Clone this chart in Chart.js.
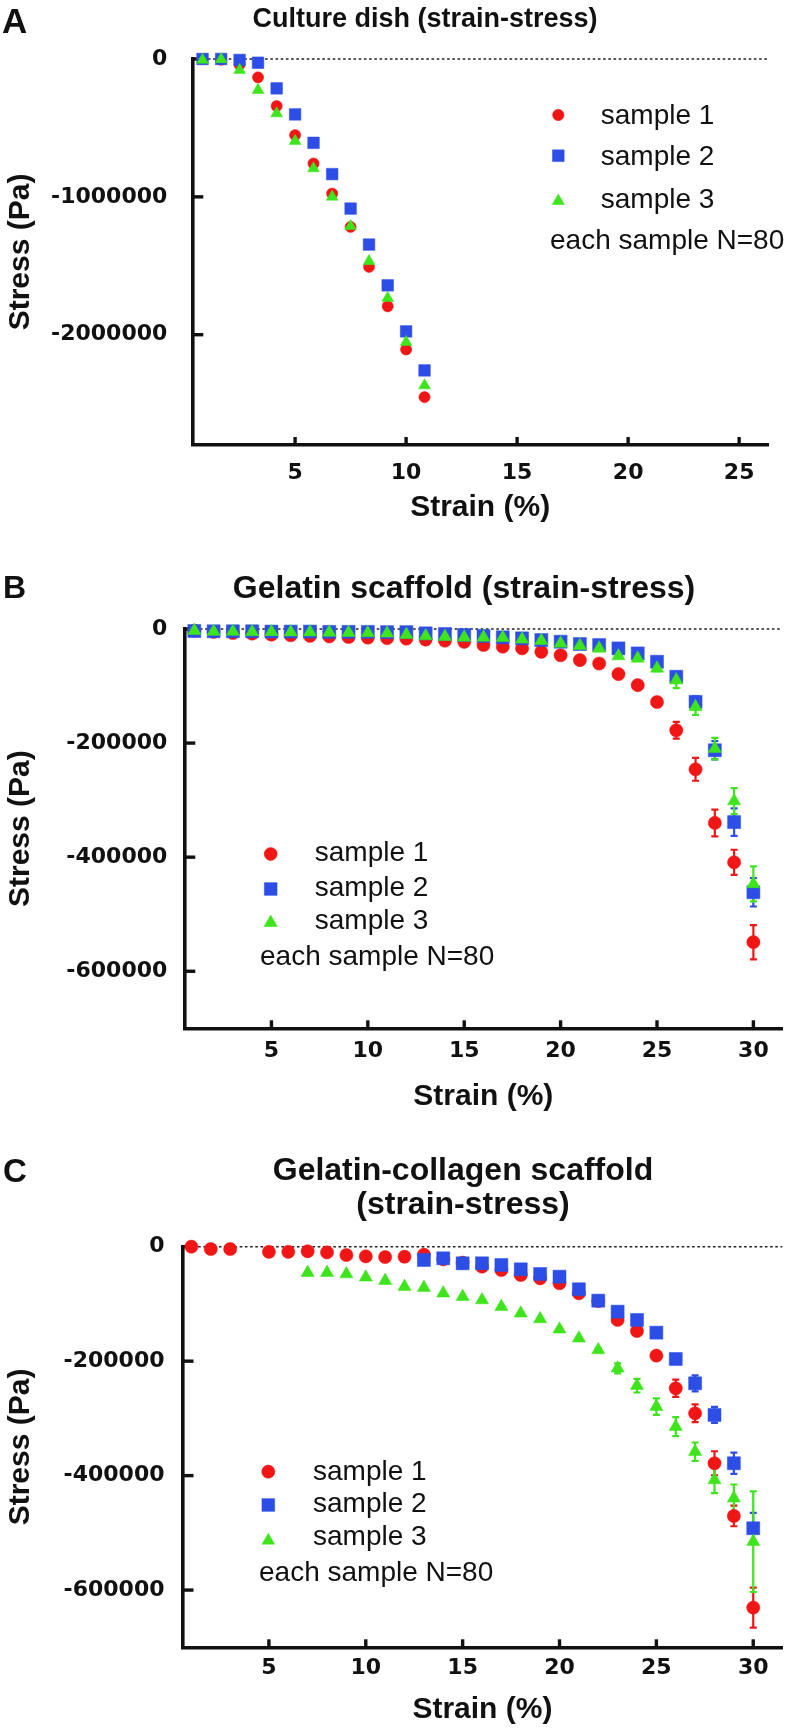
<!DOCTYPE html>
<html>
<head>
<meta charset="utf-8">
<script src="https://cdn.jsdelivr.net/npm/chart.js@4.4.1/dist/chart.umd.min.js"></script>
<style>
html,body{margin:0;padding:0;background:#fff;}
#page{position:relative;width:792px;height:1736px;overflow:hidden;font-family:'Liberation Sans',Arial,Helvetica,sans-serif;color:#111;}
canvas{position:absolute;left:0;}
.t{position:absolute;white-space:nowrap;line-height:1;}
.b{font-weight:bold;}
.c{transform:translateX(-50%);}
.lg{font-size:28px;}
</style>
</head>
<body>
<div id="page">
<canvas id="cA" width="792" height="560" style="top:0px"></canvas>
<canvas id="cB" width="792" height="560" style="top:560px"></canvas>
<canvas id="cC" width="792" height="616" style="top:1120px"></canvas>

<div class="t b" style="left:2px;top:3.4px;font-size:35px;">A</div>
<div class="t b c" style="left:425px;top:4.8px;font-size:27px;">Culture dish (strain-stress)</div>
<div class="t lg" style="left:600.8px;top:101.1px;">sample 1</div>
<div class="t lg" style="left:600.8px;top:141.6px;">sample 2</div>
<div class="t lg" style="left:600.8px;top:184.6px;">sample 3</div>
<div class="t lg" style="left:550px;top:226.1px;">each sample N=80</div>

<div class="t b" style="left:3px;top:570.9px;font-size:32px;">B</div>
<div class="t b c" style="left:464px;top:570.9px;font-size:32px;">Gelatin scaffold (strain-stress)</div>
<div class="t lg" style="left:314.8px;top:837.6px;">sample 1</div>
<div class="t lg" style="left:314.8px;top:872.6px;">sample 2</div>
<div class="t lg" style="left:314.8px;top:905.6px;">sample 3</div>
<div class="t lg" style="left:260px;top:941.9px;">each sample N=80</div>

<div class="t b" style="left:3px;top:1153.9px;font-size:33px;">C</div>
<div class="t b c" style="left:463px;top:1153.4px;font-size:32px;">Gelatin-collagen scaffold</div>
<div class="t b c" style="left:463px;top:1187.4px;font-size:32px;">(strain-stress)</div>
<div class="t lg" style="left:313px;top:1456.9px;">sample 1</div>
<div class="t lg" style="left:313px;top:1489.4px;">sample 2</div>
<div class="t lg" style="left:313px;top:1521.9px;">sample 3</div>
<div class="t lg" style="left:259px;top:1557.8px;">each sample N=80</div>
</div>

<script>
// ---------------- DATA ----------------
const seriesNames = ['sample 1', 'sample 2', 'sample 3'];

// Panel A: Culture dish
const strainA = [0.83, 1.67, 2.5, 3.33, 4.17, 5, 5.83, 6.67, 7.5, 8.33, 9.17, 10, 10.83];
const stressA1 = [0, -5000, -40000, -133000, -341000, -552000, -758000, -976000, -1218000, -1508000, -1794000, -2107000, -2453000];
const stressA2 = [0, 0, -7000, -27000, -213000, -402000, -608000, -835000, -1085000, -1346000, -1642000, -1976000, -2259000];
const stressA3 = [-7000, -2000, -80000, -225000, -395000, -596000, -794000, -1000000, -1213000, -1467000, -1734000, -2054000, -2368000];
const xTicksA = [5, 10, 15, 20, 25];
const yTicksA = [0, -1000000, -2000000];
const yTickLabelsA = ['0', '-1000000', '-2000000'];

// Panel B: Gelatin scaffold
const strainB = [1, 2, 3, 4, 5, 6, 7, 8, 9, 10, 11, 12, 13, 14, 15, 16, 17, 18, 19, 20, 21, 22, 23, 24, 25, 26, 27, 28, 29, 30];
const stressB1 = [-3000, -5000, -7000, -8000, -10000, -11000, -12000, -13000, -14000, -15000, -16000, -17000, -18500, -20500, -22500, -28000, -31000, -34000, -40000, -46000, -54500, -60500, -79000, -98500, -128000, -177500, -246000, -340000, -409000, -549000];
const errB1 = [0, 0, 0, 0, 0, 0, 0, 0, 0, 0, 0, 0, 0, 0, 0, 0, 0, 0, 0, 0, 0, 0, 3000, 4000, 5000, 14600, 20000, 23400, 22000, 30000];
const stressB2 = [-3500, -4000, -4000, -4000, -4500, -4500, -4500, -5000, -5000, -5000, -5500, -5500, -7600, -8800, -10500, -12300, -14600, -16400, -19300, -22300, -26400, -28100, -34000, -42800, -57400, -83700, -127700, -212600, -338500, -461500];
const errB2 = [0, 0, 0, 0, 0, 0, 0, 0, 0, 0, 0, 0, 0, 0, 0, 0, 0, 0, 0, 0, 0, 0, 0, 0, 4000, 8000, 9700, 16000, 24000, 25000];
const stressB3 = [-3000, -4500, -4500, -5000, -5000, -5500, -5500, -6000, -6500, -7000, -7500, -10000, -12300, -13500, -14600, -14600, -15200, -18100, -20500, -25200, -29300, -34000, -47400, -51500, -69100, -89600, -136500, -209700, -301600, -446900];
const errB3 = [0, 0, 0, 0, 0, 0, 0, 0, 0, 0, 0, 0, 0, 0, 0, 0, 0, 0, 0, 0, 0, 0, 0, 0, 5000, 14000, 14000, 19000, 22800, 30700];
const xTicksB = [5, 10, 15, 20, 25, 30];
const yTicksB = [0, -200000, -400000, -600000];
const yTickLabelsB = ['0', '-200000', '-400000', '-600000'];

// Panel C: Gelatin-collagen scaffold
const strainC1 = [1, 2, 3, 5, 6, 7, 8, 9, 10, 11, 12, 13, 14, 15, 16, 17, 18, 19, 20, 21, 22, 23, 24, 25, 26, 27, 28, 29, 30];
const stressC1 = [0, -4000, -4000, -9000, -9000, -8000, -10000, -14500, -17000, -18000, -17500, -14000, -22000, -28000, -34900, -40700, -49400, -55200, -63900, -81400, -95000, -128000, -147300, -190400, -247400, -291100, -378400, -470500, -630600];
const errC1 = [0, 0, 0, 0, 0, 0, 0, 0, 0, 0, 0, 0, 0, 0, 0, 0, 0, 0, 0, 0, 0, 3000, 4000, 6000, 15000, 15500, 21000, 18000, 35000];
const strainC2 = [13, 14, 15, 16, 17, 18, 19, 20, 21, 22, 23, 24, 25, 26, 27, 28, 29, 30];
const stressC2 = [-23200, -20300, -29000, -29000, -32000, -39500, -47700, -52400, -74400, -94300, -113500, -128000, -150200, -196200, -238700, -294000, -378400, -492000];
const errC2 = [0, 0, 0, 0, 0, 0, 0, 0, 0, 0, 0, 0, 3000, 4000, 14000, 14000, 18600, 27000];
const strainC3 = [7, 8, 9, 10, 11, 12, 13, 14, 15, 16, 17, 18, 19, 20, 21, 22, 23, 24, 25, 26, 27, 28, 29, 30];
const stressC3 = [-45400, -45400, -47700, -53500, -59300, -69900, -71600, -81400, -87400, -93100, -104800, -116400, -126300, -144300, -160000, -180500, -212500, -242800, -279500, -314500, -358100, -407600, -439500, -515400];
const errC3 = [0, 0, 0, 0, 0, 0, 0, 0, 0, 0, 0, 0, 0, 0, 0, 3000, 8700, 12000, 14500, 16600, 16000, 23000, 24000, 88000];
const xTicksC = [5, 10, 15, 20, 25, 30];
const yTicksC = [0, -200000, -400000, -600000];
const yTickLabelsC = ['0', '-200000', '-400000', '-600000'];

// ---------------- STYLE ----------------
const RED = '#f01616', BLUE = '#2c4ee6', GREEN = '#3ee41c', INK = '#111';
const SANS = "'Liberation Sans', Arial, Helvetica, sans-serif";
const TICKFONT = "'DejaVu Sans', 'Liberation Sans', Arial, sans-serif";

function fallbackPoint(ctx, style, r, x, y) {
  ctx.beginPath();
  if (style === 'circle') ctx.arc(x, y, r, 0, Math.PI * 2);
  else if (style === 'rect') { const s = Math.SQRT1_2 * r; ctx.rect(x - s, y - s, 2 * s, 2 * s); }
  else { ctx.moveTo(x, y - r); ctx.lineTo(x + r * 0.866, y + r / 2); ctx.lineTo(x - r * 0.866, y + r / 2); ctx.closePath(); }
  ctx.fill();
}

function decoPlugin(P) {
  return {
    id: 'deco' + P.id,
    beforeDatasetsDraw(chart) {
      const ctx = chart.ctx, ca = chart.chartArea, xs = chart.scales.x, ys = chart.scales.y;
      // dotted zero line
      const y0 = ys.getPixelForValue(0);
      ctx.save();
      ctx.strokeStyle = '#222'; ctx.lineWidth = 1.6; ctx.setLineDash([2.6, 2.6]);
      ctx.beginPath(); ctx.moveTo(ca.left, y0); ctx.lineTo(ca.right, y0); ctx.stroke();
      ctx.restore();
      // inward tick marks
      ctx.save();
      ctx.strokeStyle = INK; ctx.lineWidth = 3.4;
      xs.ticks.forEach(t => {
        const px = xs.getPixelForValue(t.value);
        ctx.beginPath(); ctx.moveTo(px, ca.bottom); ctx.lineTo(px, ca.bottom - 8); ctx.stroke();
      });
      ys.ticks.forEach(t => {
        const py = ys.getPixelForValue(t.value);
        ctx.beginPath(); ctx.moveTo(ca.left, py); ctx.lineTo(ca.left + 11, py); ctx.stroke();
      });
      ctx.restore();
      // error bars
      chart.data.datasets.forEach((ds, i) => {
        if (!ds.errorBars) return;
        const meta = chart.getDatasetMeta(i);
        ctx.save();
        ctx.strokeStyle = ds.backgroundColor; ctx.lineWidth = 2.2;
        meta.data.forEach((pt, j) => {
          const e = ds.errorBars[j];
          if (!e) return;
          const v = ds.data[j].y;
          const yt = ys.getPixelForValue(v + e), yb = ys.getPixelForValue(v - e);
          ctx.beginPath();
          ctx.moveTo(pt.x, yt); ctx.lineTo(pt.x, yb);
          ctx.moveTo(pt.x - 3.5, yt); ctx.lineTo(pt.x + 3.5, yt);
          ctx.moveTo(pt.x - 3.5, yb); ctx.lineTo(pt.x + 3.5, yb);
          ctx.stroke();
        });
        ctx.restore();
      });
    },
    afterDraw(chart) {
      const ctx = chart.ctx;
      const H = Chart.helpers;
      P.legendMarks.forEach((m, i) => {
        const ds = chart.data.datasets[i];
        ctx.save();
        ctx.fillStyle = ds.backgroundColor; ctx.strokeStyle = ds.backgroundColor;
        if (H && H.drawPoint) {
          H.drawPoint(ctx, { pointStyle: ds.pointStyle, radius: m.r, rotation: 0, borderWidth: 0.5 }, m.x, m.y);
        } else {
          fallbackPoint(ctx, ds.pointStyle, m.r, m.x, m.y);
        }
        ctx.restore();
      });
    }
  };
}

function makeChart(P) {
  const colors = [RED, BLUE, GREEN];
  const styles = ['circle', 'rect', 'triangle'];
  const orders = [3, 2, 1];
  const datasets = P.series.map((s, k) => ({
    label: seriesNames[k],
    data: s.x.map((x, i) => ({ x: x, y: s.y[i] })),
    errorBars: s.err || null,
    pointStyle: styles[k],
    pointRadius: P.radii[k],
    pointHoverRadius: P.radii[k],
    pointBorderWidth: 0.5,
    backgroundColor: colors[k],
    borderColor: colors[k],
    showLine: false,
    clip: false,
    order: orders[k]
  }));
  return new Chart(document.getElementById(P.canvas), {
    type: 'scatter',
    data: { datasets },
    options: {
      responsive: false,
      animation: false,
      devicePixelRatio: 1,
      events: [],
      layout: { padding: P.pad },
      plugins: { legend: { display: false }, tooltip: { enabled: false }, title: { display: false } },
      scales: {
        x: {
          type: 'linear', min: P.xMin, max: P.xMax,
          afterBuildTicks: (s) => { s.ticks = P.xTicks.map(v => ({ value: v })); },
          afterFit: (s) => { s.height = P.xH; },
          grid: { display: true, drawOnChartArea: false, drawTicks: false },
          border: { display: true, color: INK, width: 3.6 },
          ticks: {
            color: INK, padding: P.xPad, maxRotation: 0, autoSkip: false,
            font: { family: TICKFONT, weight: 'bold', size: 22 },
            callback: (v) => String(v)
          },
          title: {
            display: true, text: 'Strain (%)', color: INK,
            font: { family: SANS, weight: 'bold', size: 30 },
            padding: { top: 0, bottom: 0 }
          }
        },
        y: {
          type: 'linear', min: P.yMin, max: 0,
          afterBuildTicks: (s) => { s.ticks = P.yTicks.map(v => ({ value: v })); },
          afterFit: (s) => { s.width = P.yW; },
          grid: { display: true, drawOnChartArea: false, drawTicks: false },
          border: { display: true, color: INK, width: 3.6 },
          ticks: {
            color: INK, padding: P.yPad, autoSkip: false,
            font: { family: TICKFONT, weight: 'bold', size: 22 },
            callback: (v) => { const i = P.yTicks.indexOf(v); return i >= 0 ? P.yLabels[i] : ''; }
          },
          title: {
            display: true, text: 'Stress (Pa)', color: INK,
            font: { family: SANS, weight: 'bold', size: 30 },
            padding: { top: 3, bottom: 0 }
          }
        }
      }
    },
    plugins: [decoPlugin(P)]
  });
}

// Panel A (canvas top 0)
makeChart({
  id: 'A', canvas: 'cA',
  series: [
    { x: strainA, y: stressA1 },
    { x: strainA, y: stressA2 },
    { x: strainA, y: stressA3 }
  ],
  radii: [5.6, 8.2, 6.8],
  xMin: 0.37, xMax: 26.3, yMin: -2800000,
  xTicks: xTicksA, yTicks: yTicksA, yLabels: yTickLabelsA,
  pad: { left: 0, top: 59, right: 24, bottom: 34 },
  yW: 192.3, xH: 81, xPad: 14.8, yPad: 25,
  legendMarks: [ { x: 558.3, y: 115, r: 5.7 }, { x: 558.3, y: 155.7, r: 8.3 }, { x: 558.3, y: 201, r: 7.0 } ]
});

// Panel B (canvas top 560)
makeChart({
  id: 'B', canvas: 'cB',
  series: [
    { x: strainB, y: stressB1, err: errB1 },
    { x: strainB, y: stressB2, err: errB2 },
    { x: strainB, y: stressB3, err: errB3 }
  ],
  radii: [6.6, 9.2, 7.6],
  xMin: 0.48, xMax: 31.5, yMin: -700000,
  xTicks: xTicksB, yTicks: yTicksB, yLabels: yTickLabelsB,
  pad: { left: 0, top: 69, right: 8.2, bottom: 5.3 },
  yW: 184.3, xH: 86.4, xPad: 10.2, yPad: 17,
  legendMarks: [ { x: 270.7, y: 294, r: 6.5 }, { x: 270.7, y: 329, r: 9 }, { x: 270.7, y: 362.7, r: 7.7 } ]
});

// Panel C (canvas top 1120)
makeChart({
  id: 'C', canvas: 'cC',
  series: [
    { x: strainC1, y: stressC1, err: errC1 },
    { x: strainC2, y: stressC2, err: errC2 },
    { x: strainC3, y: stressC3, err: errC3 }
  ],
  radii: [6.6, 9.2, 7.6],
  xMin: 0.54, xMax: 31.5, yMin: -700000,
  xTicks: xTicksC, yTicks: yTicksC, yLabels: yTickLabelsC,
  pad: { left: 0, top: 126.7, right: 6, bottom: 8 },
  yW: 182.5, xH: 80.7, xPad: 7.5, yPad: 18,
  legendMarks: [ { x: 268.3, y: 351.7, r: 6.6 }, { x: 268.3, y: 385, r: 9 }, { x: 268.3, y: 420.5, r: 7.3 } ]
});
</script>
</body>
</html>
